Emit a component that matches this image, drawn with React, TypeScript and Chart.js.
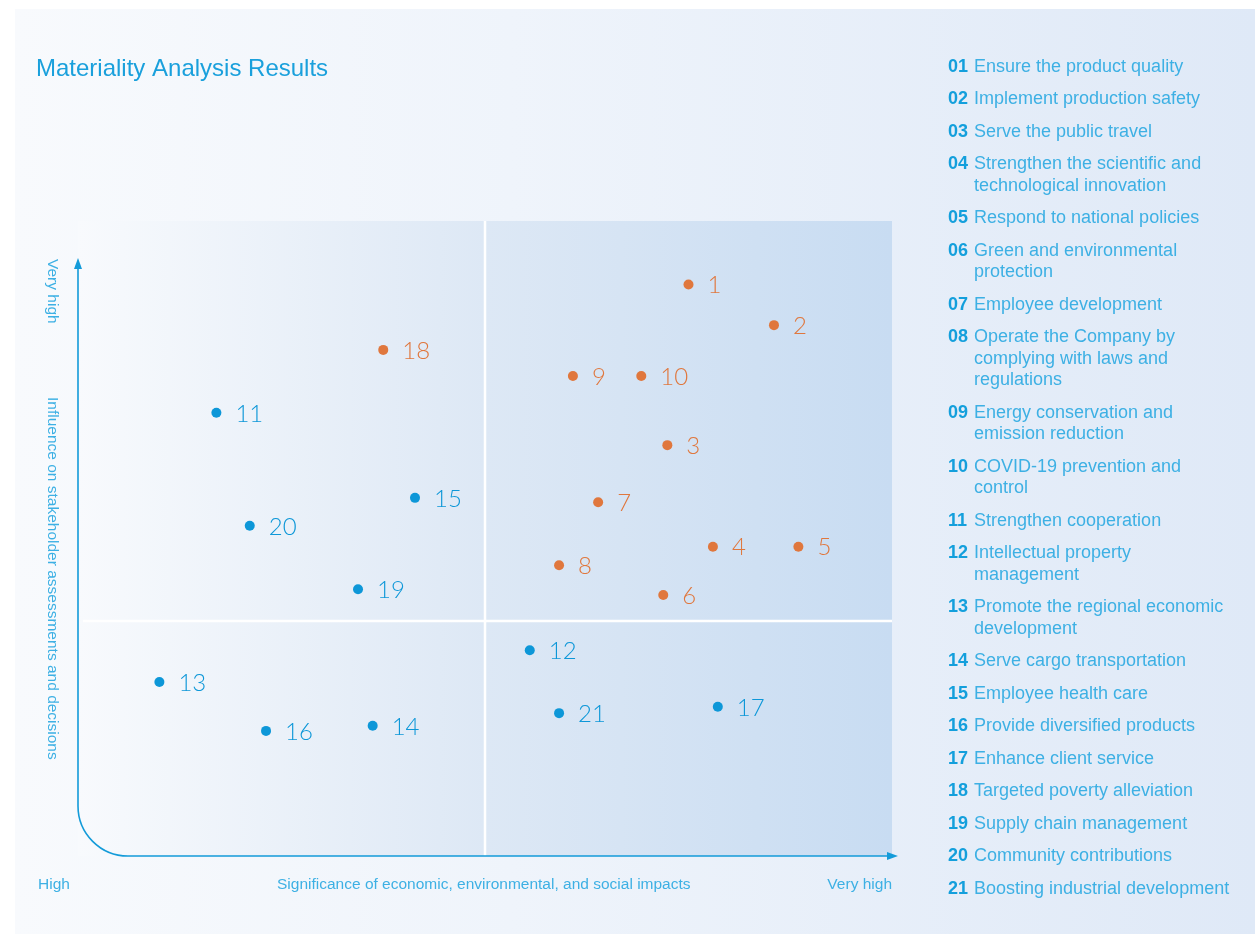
import { useEffect, useRef } from "react";
import { Chart, registerables } from "chart.js";

Chart.register(...registerables);

const W = 1255;
const H = 934;

// ---- data ----
const topicIds = [1, 2, 3, 4, 5, 6, 7, 8, 9, 10, 11, 12, 13, 14, 15, 16, 17, 18, 19, 20, 21];
const significance = [7.5, 8.55, 7.24, 7.8, 8.85, 7.19, 6.39, 5.91, 6.08, 6.92, 1.7, 5.55, 1.0, 3.62, 4.14, 2.31, 7.86, 3.75, 3.44, 2.11, 5.91];
const influence = [9.0, 8.36, 6.47, 4.87, 4.87, 4.11, 5.57, 4.58, 7.56, 7.56, 6.98, 3.24, 2.74, 2.05, 5.64, 1.97, 2.35, 7.97, 4.2, 5.2, 2.25];
const highlighted = [true, true, true, true, true, true, true, true, true, true, false, false, false, false, false, false, false, true, false, false, false];

const xDivider = 5;
const yDivider = 3.7;

const legendNumbers = ["01", "02", "03", "04", "05", "06", "07", "08", "09", "10", "11", "12", "13", "14", "15", "16", "17", "18", "19", "20", "21"];
const legendLines: string[][] = [
  ["Ensure the product quality"],
  ["Implement production safety"],
  ["Serve the public travel"],
  ["Strengthen the scientific and", "technological innovation"],
  ["Respond to national policies"],
  ["Green and environmental", "protection"],
  ["Employee development"],
  ["Operate the Company by", "complying with laws and", "regulations"],
  ["Energy conservation and", "emission reduction"],
  ["COVID-19 prevention and", "control"],
  ["Strengthen cooperation"],
  ["Intellectual property", "management"],
  ["Promote the regional economic", "development"],
  ["Serve cargo transportation"],
  ["Employee health care"],
  ["Provide diversified products"],
  ["Enhance client service"],
  ["Targeted poverty alleviation"],
  ["Supply chain management"],
  ["Community contributions"],
  ["Boosting industrial development"],
];

const titleText = "Materiality Analysis Results";
const xAxisTitle = "Significance of economic, environmental, and social impacts";
const yAxisTitle = "Influence on stakeholder assessments and decisions";
const lowLabel = "High";
const highLabel = "Very high";

const ORANGE = "#e0773d";
const BLUE = "#0d97d8";
const TEXT_BLUE = "#1aa0dc";
const LIGHT_BLUE = "#3db0e4";
const SANS = "'Liberation Sans', Arial, Helvetica, sans-serif";
const NUMFONT = "Lato, 'Open Sans', sans-serif";

const decorPlugin = {
  id: "decor",
  beforeDraw(chart: any) {
    const ctx = chart.ctx as CanvasRenderingContext2D;
    const { left, right, top, bottom } = chart.chartArea;
    const xs = chart.scales.x;
    const ys = chart.scales.y;
    ctx.save();
    ctx.fillStyle = "#ffffff";
    ctx.fillRect(0, 0, W, H);

    // panel
    const pg = ctx.createLinearGradient(15, 0, W, 0);
    pg.addColorStop(0, "#f8fafd");
    pg.addColorStop(0.4, "#eff4fb");
    pg.addColorStop(1, "#dfe9f7");
    ctx.fillStyle = pg;
    ctx.fillRect(15, 9, W - 15, H - 9);

    // quadrant area
    const qg = ctx.createLinearGradient(left, 0, right, 0);
    qg.addColorStop(0, "rgba(248,250,253,1)");
    qg.addColorStop(0.5, "#dde8f5");
    qg.addColorStop(1, "#c8dcf2");
    ctx.fillStyle = qg;
    ctx.fillRect(left, top, right - left, bottom - top);

    // dividers
    const xm = xs.getPixelForValue(xDivider);
    const ym = ys.getPixelForValue(yDivider);
    ctx.strokeStyle = "#ffffff";
    ctx.lineWidth = 2.5;
    ctx.beginPath();
    ctx.moveTo(xm, top);
    ctx.lineTo(xm, bottom);
    ctx.moveTo(left + 5, ym);
    ctx.lineTo(right, ym);
    ctx.stroke();

    // axes with rounded corner
    const r = 50;
    const yTip = 258;
    const xTip = 898;
    ctx.strokeStyle = "#139bd9";
    ctx.fillStyle = "#139bd9";
    ctx.lineWidth = 1.6;
    ctx.beginPath();
    ctx.moveTo(left, yTip + 8);
    ctx.lineTo(left, bottom - r);
    ctx.arcTo(left, bottom, left + r, bottom, r);
    ctx.lineTo(xTip - 8, bottom);
    ctx.stroke();
    ctx.beginPath();
    ctx.moveTo(left, yTip);
    ctx.lineTo(left - 4, yTip + 11);
    ctx.lineTo(left + 4, yTip + 11);
    ctx.closePath();
    ctx.fill();
    ctx.beginPath();
    ctx.moveTo(xTip, bottom);
    ctx.lineTo(xTip - 11, bottom - 4);
    ctx.lineTo(xTip - 11, bottom + 4);
    ctx.closePath();
    ctx.fill();

    // title
    ctx.fillStyle = TEXT_BLUE;
    ctx.font = `24px ${SANS}`;
    ctx.textBaseline = "middle";
    ctx.textAlign = "left";
    ctx.fillText(titleText, 36, 69);

    // axis labels
    ctx.fillStyle = LIGHT_BLUE;
    ctx.font = `15.5px ${SANS}`;
    ctx.textAlign = "left";
    ctx.fillText(lowLabel, 38, 885);
    ctx.fillText(xAxisTitle, 277, 885);
    ctx.textAlign = "right";
    ctx.fillText(highLabel, 892, 885);

    ctx.save();
    ctx.translate(52, 259);
    ctx.rotate(Math.PI / 2);
    ctx.textAlign = "left";
    ctx.fillText(highLabel, 0, 0);
    ctx.restore();
    ctx.save();
    ctx.translate(52, 397);
    ctx.rotate(Math.PI / 2);
    ctx.textAlign = "left";
    ctx.fillText(yAxisTitle, 0, 0);
    ctx.restore();

    // legend list
    let y = 67;
    ctx.textAlign = "left";
    ctx.textBaseline = "middle";
    legendNumbers.forEach((num, i) => {
      ctx.fillStyle = "#139fdc";
      ctx.font = `bold 18px ${SANS}`;
      ctx.fillText(num, 948, y);
      ctx.fillStyle = LIGHT_BLUE;
      ctx.font = `18px ${SANS}`;
      legendLines[i].forEach((ln, k) => {
        ctx.fillText(ln, 974, y + k * 21.5);
      });
      y += (legendLines[i].length - 1) * 21.5 + 32.5;
    });
    ctx.restore();
  },
  afterDatasetsDraw(chart: any) {
    const ctx = chart.ctx as CanvasRenderingContext2D;
    ctx.save();
    ctx.font = `300 24px ${NUMFONT}`;
    ctx.textBaseline = "middle";
    ctx.textAlign = "left";
    chart.data.datasets.forEach((ds: any, di: number) => {
      const meta = chart.getDatasetMeta(di);
      meta.data.forEach((pt: any, j: number) => {
        ctx.fillStyle = ds.labelColor;
        ctx.fillText(String(ds.ids[j]), pt.x + 19, pt.y + 1);
      });
    });
    ctx.restore();
  },
};

export default function App() {
  const ref = useRef<HTMLCanvasElement | null>(null);
  useEffect(() => {
    if (!ref.current) return;
    const mk = (flag: boolean) => {
      const idx = topicIds.map((_, i) => i).filter((i) => highlighted[i] === flag);
      return {
        ids: idx.map((i) => topicIds[i]),
        data: idx.map((i) => ({ x: significance[i], y: influence[i] })),
      };
    };
    const hi = mk(true);
    const lo = mk(false);
    const chart = new Chart(ref.current, {
      type: "scatter",
      data: {
        datasets: [
          {
            label: "High materiality",
            data: hi.data,
            ids: hi.ids,
            labelColor: ORANGE,
            backgroundColor: ORANGE,
            borderColor: ORANGE,
            pointRadius: 5,
            borderWidth: 0,
          } as any,
          {
            label: "Other",
            data: lo.data,
            ids: lo.ids,
            labelColor: BLUE,
            backgroundColor: BLUE,
            borderColor: BLUE,
            pointRadius: 5,
            borderWidth: 0,
          } as any,
        ],
      },
      options: {
        responsive: false,
        animation: false,
        layout: { padding: { left: 78, right: W - 892, top: 221, bottom: H - 856 } },
        scales: {
          x: { type: "linear", min: 0, max: 10, display: false },
          y: { type: "linear", min: 0, max: 10, display: false },
        },
        plugins: {
          legend: { display: false },
          tooltip: { enabled: false },
        },
      },
      plugins: [decorPlugin],
    });
    return () => chart.destroy();
  }, []);
  return (
    <div style={{ position: "absolute", left: 0, top: 0, width: W, height: H }}>
      <canvas ref={ref} width={W} height={H} style={{ display: "block", width: W, height: H }} />
    </div>
  );
}
